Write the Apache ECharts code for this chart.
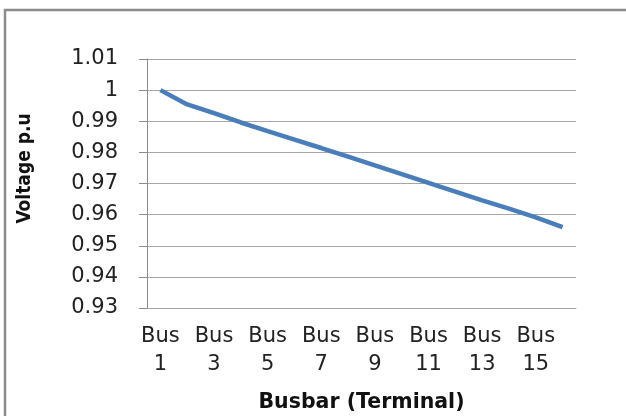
<!DOCTYPE html>
<html>
<head>
<meta charset="utf-8">
<script src="https://cdn.jsdelivr.net/npm/echarts@6/dist/echarts.min.js"></script>
<style>html,body{margin:0;padding:0;background:#fff;}#c{width:626px;height:416px;}</style>
</head>
<body>
<div id="c"></div>
<script>
const categories = ["Bus 1","Bus 2","Bus 3","Bus 4","Bus 5","Bus 6","Bus 7","Bus 8","Bus 9","Bus 10","Bus 11","Bus 12","Bus 13","Bus 14","Bus 15","Bus 16"];
const voltage = [1.000,0.9954,0.9926,0.9896,0.9868,0.9841,0.9814,0.9786,0.9758,0.9730,0.9702,0.9674,0.9646,0.9619,0.9591,0.9560];
const yMin = 0.93, yMax = 1.01, yStep = 0.01;
const xTitle = "Busbar (Terminal)";
const yTitle = "Voltage p.u";

const chart = echarts.init(document.getElementById('c'), null, {renderer:'canvas'});
const font = "DejaVu Sans";
chart.setOption({
  animation:false,
  backgroundColor:'#fff',
  graphic:[{type:'rect',shape:{x:5,y:10,width:700,height:500},style:{fill:'none',stroke:'#8c8c8c',lineWidth:2.5},silent:true}],
  grid:{left:147,right:50,top:59,bottom:108,containLabel:false,outerBoundsMode:'none'},
  xAxis:{
    type:'category',data:categories,boundaryGap:true,
    axisLine:{show:true,lineStyle:{color:'#a6a6a6',width:1}},
    axisTick:{show:false},
    axisLabel:{interval:1,margin:15,fontFamily:font,fontSize:21,lineHeight:28,color:'#222',
      formatter:v=>v.replace(' ','\n')},
    name:xTitle,nameLocation:'middle',nameGap:84,
    nameTextStyle:{fontFamily:font,fontSize:20.5,fontWeight:'bold',color:'#111'}
  },
  yAxis:{
    type:'value',min:yMin,max:yMax,interval:yStep,
    axisLine:{show:true,lineStyle:{color:'#8c8c8c',width:1}},
    axisTick:{show:true,length:8,lineStyle:{color:'#8c8c8c'}},
    splitLine:{show:true,lineStyle:{color:'#a6a6a6',width:1}},
    axisLabel:{margin:29,fontFamily:font,fontSize:21,color:'#222',
      formatter:v=>String(parseFloat(v.toFixed(2)))},
    name:yTitle,nameLocation:'middle',nameGap:112,nameRotate:90,
    nameTextStyle:{fontFamily:"DejaVu Sans Condensed, DejaVu Sans",fontSize:19,fontWeight:'bold',color:'#111',padding:[0,0,0,30]}
  },
  series:[{type:'line',data:voltage,symbol:'none',smooth:false,
    lineStyle:{color:'#4a7ebb',width:4.5}}]
});
</script>
</body>
</html>
